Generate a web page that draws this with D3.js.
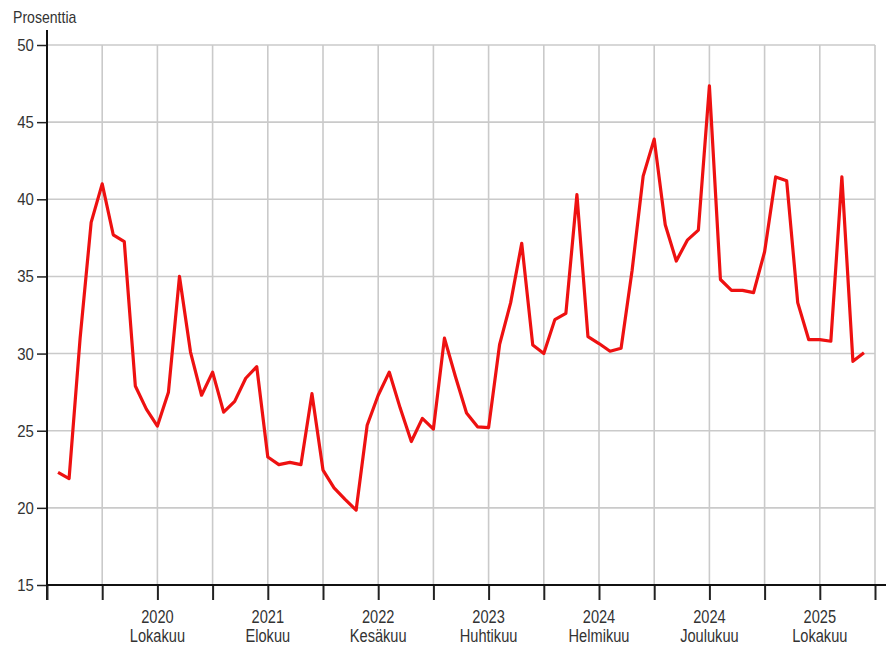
<!DOCTYPE html>
<html>
<head>
<meta charset="utf-8">
<script src="https://cdn.jsdelivr.net/npm/d3@7"></script>
<style>
  html, body { margin: 0; padding: 0; background: #fff; }
  svg { display: block; }
  text { font-family: "Liberation Sans", Arial, sans-serif; fill: #333; }
</style>
</head>
<body>
<svg id="chart" width="894" height="648"></svg>
<script>
// Months Jan 2020 .. Feb 2026 (index 1..74 on the month axis; index 0 = Dec 2019)
const months = [
  "2020-01","2020-02","2020-03","2020-04","2020-05","2020-06","2020-07","2020-08","2020-09","2020-10","2020-11","2020-12",
  "2021-01","2021-02","2021-03","2021-04","2021-05","2021-06","2021-07","2021-08","2021-09","2021-10","2021-11","2021-12",
  "2022-01","2022-02","2022-03","2022-04","2022-05","2022-06","2022-07","2022-08","2022-09","2022-10","2022-11","2022-12",
  "2023-01","2023-02","2023-03","2023-04","2023-05","2023-06","2023-07","2023-08","2023-09","2023-10","2023-11","2023-12",
  "2024-01","2024-02","2024-03","2024-04","2024-05","2024-06","2024-07","2024-08","2024-09","2024-10","2024-11","2024-12",
  "2025-01","2025-02","2025-03","2025-04","2025-05","2025-06","2025-07","2025-08","2025-09","2025-10","2025-11","2025-12",
  "2026-01","2026-02"
];
const values = [
  22.3, 21.9, 31.0, 38.5, 41.0, 37.7, 37.25, 27.9, 26.4, 25.3, 27.5, 35.0,
  30.1, 27.3, 28.8, 26.2, 26.9, 28.4, 29.15, 23.3, 22.8, 22.95, 22.8, 27.4,
  22.45, 21.3, 20.55, 19.85, 25.35, 27.3, 28.8, 26.45, 24.3, 25.8, 25.1, 31.0,
  28.5, 26.15, 25.25, 25.2, 30.6, 33.3, 37.15, 30.55, 30.0, 32.2, 32.6, 40.3,
  31.1, 30.65, 30.15, 30.35, 35.4, 41.5, 43.9, 38.35, 36.0, 37.35, 38.0, 47.35,
  34.8, 34.1, 34.1, 33.95, 36.6, 41.45, 41.2, 33.3, 30.9, 30.9, 30.8, 41.45,
  29.5, 30.05
];
const yTicks = [15, 20, 25, 30, 35, 40, 45, 50];
const xTickEvery = 5;                // tick every 5 months
const labelYears  = ["2020", "2021", "2022", "2023", "2024", "2024", "2025"];
const labelMonths = ["Lokakuu", "Elokuu", "Kesäkuu", "Huhtikuu", "Helmikuu", "Joulukuu", "Lokakuu"];
const labelIndex  = [10, 20, 30, 40, 50, 60, 70];
const yTitle = "Prosenttia";

const svg = d3.select("#chart");
const x = d3.scaleLinear().domain([0, 75]).range([47, 875]);
const y = d3.scaleLinear().domain([15, 50]).range([585, 45]);

const xTicks = d3.range(0, 76, xTickEvery);

// grid
const grid = svg.append("g");
grid.selectAll("line.h").data(yTicks.filter(d => d > 15)).join("line")
  .attr("x1", x(0)).attr("x2", x(75))
  .attr("y1", d => y(d)).attr("y2", d => y(d))
  .attr("stroke", "#cacaca").attr("stroke-width", 1.6);
grid.selectAll("line.v").data(xTicks.filter(d => d > 0)).join("line")
  .attr("x1", d => x(d)).attr("x2", d => x(d))
  .attr("y1", y(50)).attr("y2", y(15))
  .attr("stroke", "#cacaca").attr("stroke-width", 1.6);

// y axis
const yAxis = svg.append("g").attr("transform", `translate(${x(0)},0)`)
  .call(d3.axisLeft(y).tickValues(yTicks).tickSize(10).tickPadding(3).tickFormat(d3.format("d")));
yAxis.select(".domain").remove();
yAxis.selectAll(".tick line").attr("stroke", "#222").attr("stroke-width", 1.5);
yAxis.selectAll(".tick text").attr("font-size", 17).attr("fill", "#333")
  .attr("x", -15).attr("transform", "scale(0.88,1)")
  .style("font-family", '"Liberation Sans", Arial, sans-serif');
svg.append("line").attr("x1", x(0)).attr("x2", x(0)).attr("y1", 30).attr("y2", 600)
  .attr("stroke", "#111").attr("stroke-width", 2);

// x axis
const xAxis = svg.append("g").attr("transform", `translate(0,${y(15)})`)
  .call(d3.axisBottom(x).tickValues(xTicks).tickSize(15).tickFormat(""));
xAxis.select(".domain").remove();
xAxis.selectAll(".tick line").attr("stroke", "#222").attr("stroke-width", 2);
svg.append("line").attr("x1", x(0)).attr("x2", 886).attr("y1", y(15)).attr("y2", y(15))
  .attr("stroke", "#111").attr("stroke-width", 2);

const lbl = svg.append("g");
labelIndex.forEach((m, i) => {
  lbl.append("text").attr("transform", `translate(${x(m)},623) scale(0.79,1)`)
    .attr("text-anchor", "middle").attr("font-size", 18.5).text(labelYears[i]);
  lbl.append("text").attr("transform", `translate(${x(m)},642) scale(0.79,1)`)
    .attr("text-anchor", "middle").attr("font-size", 18.5).text(labelMonths[i]);
});

// y title
svg.append("text").attr("transform", "translate(13,23) scale(0.88,1)")
  .attr("font-size", 16).text(yTitle);

// line
const line = d3.line().x((d, i) => x(i + 1)).y(d => y(d));
svg.append("path").datum(values)
  .attr("fill", "none").attr("stroke", "#ee1111").attr("stroke-width", 3.2)
  .attr("stroke-linejoin", "round").attr("d", line);
</script>
</body>
</html>
